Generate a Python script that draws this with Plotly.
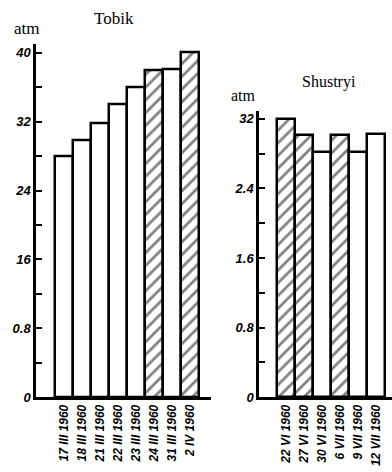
import plotly.graph_objects as go

# ---- data ----
tobik_dates = ["17 III 1960", "18 III 1960", "21 III 1960", "22 III 1960",
               "23 III 1960", "24 III 1960", "31 III 1960", "2 IV 1960"]
tobik_atm = [28.0, 29.8, 31.8, 34.0, 36.0, 38.0, 38.1, 40.1]
tobik_hatched = [False, False, False, False, False, True, False, True]

shustryi_dates = ["22 VI 1960", "27 VI 1960", "30 VI 1960", "6 VII 1960",
                  "9 VII 1960", "12 VII 1960"]
shustryi_atm = [32.0, 30.1, 28.2, 30.1, 28.2, 30.2]
shustryi_hatched = [True, True, False, True, False, False]

left_tickvals = [0, 4, 8, 12, 16, 20, 24, 28, 32, 36, 40]
left_ticktext = ["0", "", "0.8", "", "16", "", "24", "", "32", "", "40"]
right_tickvals = [0, 4, 8, 12, 16, 20, 24, 28, 32]
right_ticktext = ["0", "", "0.8", "", "1.6", "", "2.4", "", "32"]

W, H = 392, 472
def px(x):
    return x / W
def py(y):
    return 1 - y / H

fig = go.Figure()

def add_bars(dates, vals, hatched, xa, ya):
    fig.add_trace(go.Bar(
        x=dates, y=vals, xaxis=xa, yaxis=ya,
        marker=dict(
            color="white",
            line=dict(color="black", width=2.5),
            pattern=dict(shape=["/" if h else "" for h in hatched],
                         fgcolor="black", bgcolor="white",
                         size=9, solidity=0.3),
        ),
        width=1.0,
        showlegend=False,
    ))

add_bars(tobik_dates, tobik_atm, tobik_hatched, "x", "y")
add_bars(shustryi_dates, shustryi_atm, shustryi_hatched, "x2", "y2")

tickfont_y = dict(family="Liberation Sans", size=13, color="black",
                  weight="bold", style="italic")
tickfont_x = dict(family="Liberation Sans", size=12, color="black",
                  weight="bold", style="italic")

common_x = dict(type="category", showline=True, linecolor="black", linewidth=2.5,
                ticks="", tickangle=-90, tickfont=tickfont_x, showgrid=False,
                zeroline=False, fixedrange=True)
common_y = dict(showline=True, linecolor="black", linewidth=2.5, ticks="inside",
                ticklen=6, tickwidth=1.5, tickcolor="black", tickfont=tickfont_y,
                showgrid=False, zeroline=False, tickmode="array")

fig.update_layout(
    width=W, height=H,
    margin=dict(l=0, r=0, t=0, b=0),
    paper_bgcolor="white", plot_bgcolor="white",
    bargap=0,
    xaxis=dict(common_x, domain=[px(36), px(211)], anchor="y",
               range=[-1.556, 8.17]),
    yaxis=dict(common_y, domain=[py(404), py(45)], anchor="x",
               range=[0, 41.0], tickvals=left_tickvals, ticktext=left_ticktext),
    xaxis2=dict(common_x, domain=[px(259), 1.0], anchor="y2",
                range=[-1.5, 5.9]),
    yaxis2=dict(common_y, domain=[py(404), py(113)], anchor="x2",
                range=[0, 32.9], tickvals=right_tickvals, ticktext=right_ticktext),
)

serif = dict(family="Liberation Serif", color="black")
annos = [
    ("Tobik", 114, 19, 17),
    ("atm", 27, 29, 17),
    ("Shustryi", 329, 83, 16),
    ("atm", 243, 97, 16),
]
for text, x, y, s in annos:
    fig.add_annotation(text=text, x=px(x), y=py(y), xref="paper", yref="paper",
                       xanchor="center", yanchor="middle", showarrow=False,
                       font=dict(serif, size=s))

fig.write_html("out.html")
